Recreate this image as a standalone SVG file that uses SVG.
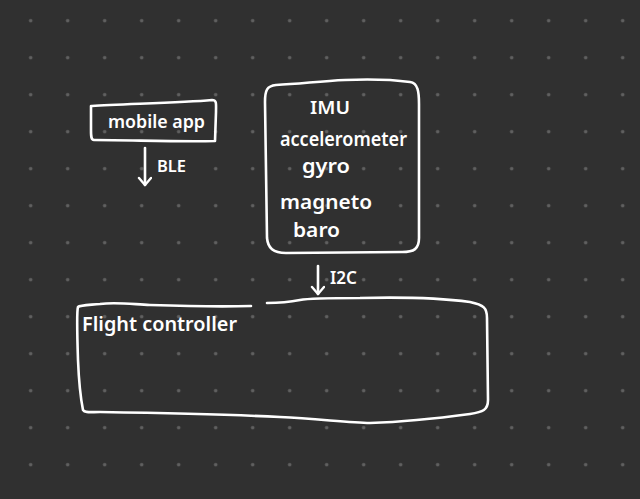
<svg xmlns="http://www.w3.org/2000/svg" width="640" height="499" viewBox="0 0 640 499">
  <defs>
    <pattern id="dots" x="12.2" y="2.2" width="37" height="37" patternUnits="userSpaceOnUse">
      <circle cx="18.5" cy="18.5" r="1.8" fill="#606060"/>
    </pattern>
    <marker id="arrow" markerWidth="16" markerHeight="16" refX="10" refY="7" orient="auto" markerUnits="userSpaceOnUse">
      <path d="M3 1 L10 7 L3 13" fill="none" stroke="#ffffff" stroke-width="2.4" stroke-linecap="round" stroke-linejoin="round"/>
    </marker>
    <style>
      .ink { fill: none; stroke: #ffffff; stroke-width: 2.6; stroke-linecap: round; stroke-linejoin: round; }
      .hand { fill: #ffffff; font-family: "Noto Sans", "Liberation Sans", sans-serif; font-weight: 600; }
    </style>
  </defs>
  <rect width="640" height="499" fill="#303030"/>
  <rect width="640" height="499" fill="url(#dots)"/>

  <g id="mobile-app">
    <path class="ink" d="M92 106 C120 104 180 103 212 100 C217 100 216 104 216 112 L215 141 C180 142 130 140 94 140 C91 140 91 136 91 130 L91 106 Z"/>
    <text class="hand" x="108" y="128" font-size="17" textLength="97" lengthAdjust="spacingAndGlyphs">mobile app</text>
  </g>

  <g id="imu">
    <path class="ink" d="M276 85 C300 84 320 81 345 80 C370 79 395 80 410 82 C418 83 419 92 419 104 L419 238 C419 249 414 252 402 252 L286 253 C273 253 268 248 267 238 L265 102 C265 90 267 86 276 85 Z"/>
    <text class="hand" x="310" y="114" font-size="17" textLength="40" lengthAdjust="spacingAndGlyphs">IMU</text>
    <text class="hand" x="280" y="146" font-size="19" textLength="127" lengthAdjust="spacingAndGlyphs">accelerometer</text>
    <text class="hand" x="302" y="173" font-size="19" textLength="48" lengthAdjust="spacingAndGlyphs">gyro</text>
    <text class="hand" x="280" y="209" font-size="19" textLength="92" lengthAdjust="spacingAndGlyphs">magneto</text>
    <text class="hand" x="293" y="237" font-size="19" textLength="47" lengthAdjust="spacingAndGlyphs">baro</text>
  </g>

  <g id="flight-controller">
    <path class="ink" d="M251 306 C220 307 180 306 150 305 C130 304 115 302 100 304 C90 305 80 305 78 307 C77 310 77 330 78 360 C79 385 81 400 83 410 C85 413 90 412 100 412 C160 413 220 414 280 417 C320 419 350 423 370 423 C400 422 440 418 470 414 C483 412 488 410 488 400 L487 318 C487 308 484 305 470 302 C440 298 400 297 360 298 C330 298 310 298 300 300 C290 302 280 303 267 303"/>
    <text class="hand" x="82" y="331" font-size="19" textLength="155" lengthAdjust="spacingAndGlyphs">Flight controller</text>
  </g>

  <g id="connectors">
    <g id="ble">
      <path class="ink" d="M145 148 L145 185" marker-end="url(#arrow)"/>
      <text class="hand" x="157" y="172" font-size="16" textLength="29" lengthAdjust="spacingAndGlyphs">BLE</text>
    </g>
    <g id="i2c">
      <path class="ink" d="M318 266 L318 294" marker-end="url(#arrow)"/>
      <text class="hand" x="330" y="284" font-size="17" textLength="27" lengthAdjust="spacingAndGlyphs">I2C</text>
    </g>
  </g>
</svg>
